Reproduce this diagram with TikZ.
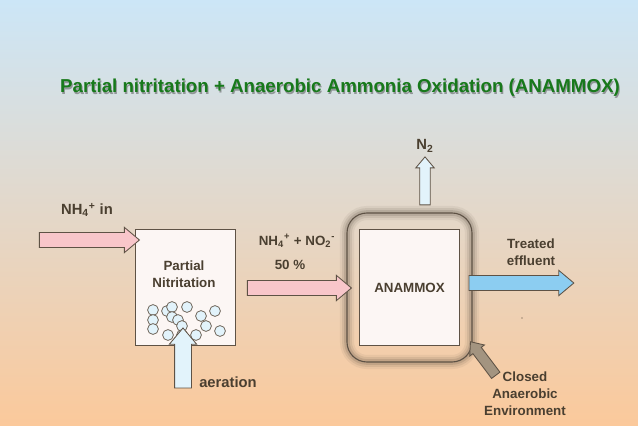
\documentclass[tikz,border=0pt]{standalone}
\usepackage{fontspec}
\setmainfont{Liberation Sans}
\usetikzlibrary{positioning,shapes.arrows}
\definecolor{bgtop}{HTML}{CCE6F7}
\definecolor{bgmid}{HTML}{F1DCCD}
\definecolor{bgbot}{HTML}{FBC99B}
\definecolor{txt}{HTML}{4A3F30}
\definecolor{ttl}{HTML}{17791B}
\definecolor{edge}{HTML}{5E5245}
\definecolor{pinkfill}{HTML}{F8C6CA}
\definecolor{bluefill}{HTML}{8CCDF1}
\definecolor{palefill}{HTML}{E2F3FB}
\definecolor{closedfill}{HTML}{A39480}
\definecolor{boxfill}{HTML}{FCF6F4}
\newcommand{\sub}[1]{\textsubscript{#1}}
\newcommand{\sups}[1]{\textsuperscript{#1}}
\tikzset{
  lbl/.style={font=\bfseries\fontsize{9.5}{12}\selectfont, text=txt, align=center},
  biglbl/.style={lbl, font=\bfseries\fontsize{10.5}{13}\selectfont},
  blockarr/.style={single arrow, draw=edge, line width=0.6pt, inner xsep=0pt,
    inner ysep=0.175cm, single arrow head extend=0.13cm, single arrow tip angle=80},
  thinarr/.style={blockarr, inner ysep=0.12cm, single arrow head extend=0.1cm},
  tank/.style={draw=edge, fill=boxfill, line width=0.6pt, inner sep=0pt,
    minimum width=2.52cm, minimum height=2.88cm},
  bubble/.style={circle, draw=edge, fill=palefill, line width=0.5pt, inner sep=0pt, minimum size=0.27cm}
}
\begin{document}
\begin{tikzpicture}[x=0.025cm, y=-0.025cm]
  \shade[top color=bgtop, middle color=bgmid, bottom color=bgbot] (0,0) rectangle (638,426);
  % title
  \node[font=\bfseries\fontsize{13.3}{15}\selectfont, text=black!70, opacity=0.5] at (341,89.5)
    {Partial nitritation + Anaerobic Ammonia Oxidation (ANAMMOX)};
  \node[font=\bfseries\fontsize{13.3}{15}\selectfont, text=ttl] (title) at (340,88)
    {Partial nitritation + Anaerobic Ammonia Oxidation (ANAMMOX)};

  % closed environment with soft shadow
  \foreach \w/\o in {10/0.08, 7/0.12, 4/0.18}
    \draw[edge, line width=\w pt, opacity=\o, rounded corners=0.5cm] (347,213) rectangle (472,362);
  \draw[edge, line width=0.8pt, rounded corners=0.5cm] (347,213) rectangle (472,362);

  \node[tank] (pn) at (185.5,287.5) {};
  \node[lbl] (pnlbl) at (184,274) {Partial\\Nitritation};
  \node[tank] (amx) at (409.5,287.5) {};
  \node[lbl] (amxlbl) at (amx) {ANAMMOX};

  % bubbles
  \foreach \x/\y in {153/310,167/311,172/307,187/307,215/311,153/320,172/317,178/320,
                     201/316,153/329,182/326,206/326,220/331,168/335,182/335,196/335}
    \node[bubble] at (\x,\y) {};

  % arrows
  \node[blockarr, fill=pinkfill, minimum height=2.5cm] (inarr) at (85,240) {};
  \node[blockarr, fill=pinkfill, minimum height=2.6cm] (midarr) at (295,288) {};
  \node[blockarr, fill=bluefill, minimum height=2.62cm] (outarr) at (517,283) {};
  \node[thinarr, fill=palefill, minimum height=1.2cm, rotate=90] (n2arr) at (425,184) {};
  \node[blockarr, fill=palefill, inner ysep=0.2cm, minimum height=1.5cm, rotate=90] (airarr) at (183,363) {};
  \node[thinarr, fill=closedfill, minimum height=1.05cm, rotate=127] (clarr) at (485,361) {};

  % labels
  \node[biglbl] (inlbl) at (87,210) {NH\sub{4}\sups{+} in};
  \node[lbl] (mixlbl) at (297,241) {NH\sub{4}\sups{+} + NO\sub{2}\sups{-}};
  \node[lbl] (pctlbl) at (290,265) {50 \%};
  \node[biglbl] (n2lbl) at (425,146) {N\sub{2}};
  \node[lbl] (outlbl) at (531,252) {Treated\\effluent};
  \node[biglbl] (airlbl) at (228,382) {aeration};
  \node[lbl] (cllbl) at (525,394) {Closed\\Anaerobic\\Environment};
  \fill[txt] (522,318) circle (0.4pt);
\end{tikzpicture}
\end{document}
